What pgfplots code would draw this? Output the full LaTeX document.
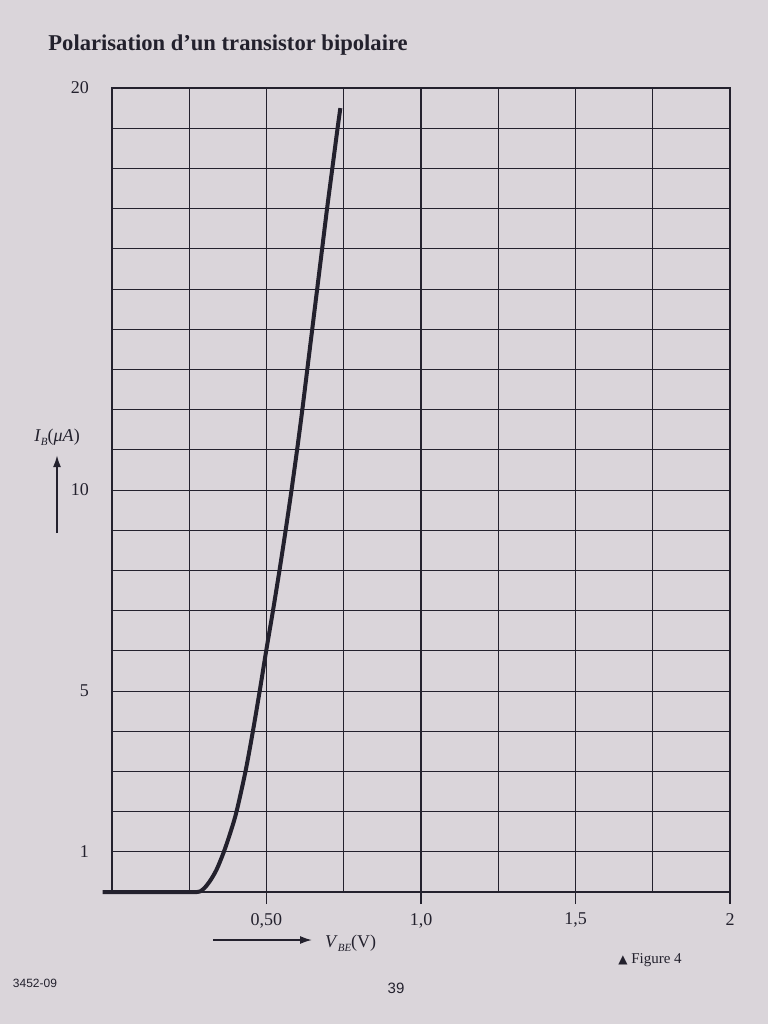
\documentclass[border=0pt]{standalone}
\usepackage{pgfplots}
\pgfplotsset{compat=1.18}
\usetikzlibrary{arrows.meta}
\usepackage{fontspec}
\setmainfont{Liberation Serif}
\newfontfamily\symfont{DejaVu Sans}
\newfontfamily\sansfont{Liberation Sans}
\definecolor{paper}{RGB}{218,213,218}
\definecolor{ink}{RGB}{35,33,45}
\begin{document}
\begin{tikzpicture}
\fill[paper] (0,0) rectangle (384pt,-512pt);
\begin{axis}[
  at={(56pt,-446pt)}, anchor=south west,
  scale only axis, width=309pt, height=402pt,
  xmin=0, xmax=2, ymin=0, ymax=20,
  xtick={0.5,1,1.5,2}, xticklabels={{0,50},{1,0},{1,5},{2}},
  minor xtick={0.25,0.75,1.25,1.75},
  ytick={1,5,10,20}, minor ytick={0,1,...,20},
  grid=both,
  major grid style={ink, line width=0.5pt},
  minor grid style={ink, line width=0.5pt},
  major x grid style={ink, line width=0.75pt},
  axis line style={ink, line width=0.55pt},
  xtick pos=bottom, ytick pos=left, tick align=outside,
  major tick length=6pt, minor tick length=0pt,
  x tick style={ink, line width=0.75pt},
  y tick style={draw=none},
  tick label style={font=\fontsize{9}{10}\selectfont, text=ink},
  /pgf/number format/assume math mode=true,
  xticklabel style={yshift=-1pt},
  yticklabel style={xshift=-2pt},
  clip=false,
]
\addplot[ink, line width=2pt, smooth, tension=0.5] coordinates {
 (-0.03,0) (0.2,0) (0.275,0) (0.295,0.07) (0.315,0.25) (0.338,0.55) (0.362,1)
 (0.384,1.5) (0.403,2) (0.432,3) (0.456,4) (0.478,5) (0.499,6) (0.521,7)
 (0.542,8) (0.562,9) (0.581,10) (0.599,11) (0.616,12) (0.632,13)
 (0.648,14) (0.664,15) (0.680,16) (0.696,17) (0.713,18) (0.730,19) (0.739,19.5)
};
\draw[ink, line width=1.2pt] (axis cs:0,0) -- (axis cs:0,20);
\end{axis}
\begin{scope}[x=0.5pt, y=-0.5pt]
\node[anchor=base west, inner sep=0pt, text=ink, font=\bfseries\fontsize{11.3}{13}\selectfont] at (48,50) {Polarisation d’un transistor bipolaire};
\node[text=ink, font=\fontsize{9}{10}\selectfont] at (57,437) {\textit{I}\raisebox{-0.5ex}{\fontsize{5.5}{6}\selectfont\textit{B}}(\textit{μA})};
\draw[ink, line width=1pt, -{Latex[length=6pt,width=4pt]}] (57,533) -- (57,455);
\draw[ink, line width=0.8pt, -{Latex[length=6pt,width=4pt]}] (213,940) -- (312,940);
\node[anchor=west, text=ink, font=\fontsize{9}{10}\selectfont] at (318,943) {\textit{V}\raisebox{-0.5ex}{\fontsize{5.5}{6}\selectfont\textit{BE}}(V)};
\node[text=ink, font=\fontsize{7.5}{9}\selectfont] at (650,960) {{\symfont\fontsize{6}{7}\selectfont ▲} Figure 4};
\node[text=ink, font=\sansfont\fontsize{6}{7}\selectfont] at (35,983) {3452-09};
\node[text=ink, font=\sansfont\fontsize{7.5}{9}\selectfont] at (396,988) {39};
\end{scope}
\end{tikzpicture}
\end{document}
